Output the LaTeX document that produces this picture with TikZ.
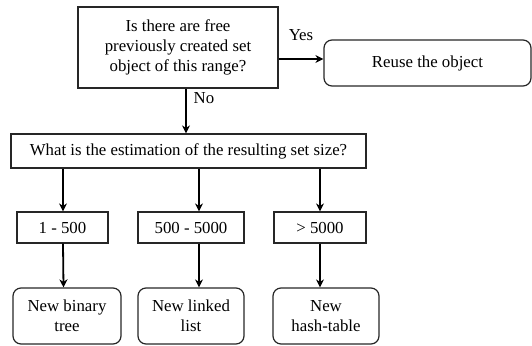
\documentclass[tikz,border=0pt]{standalone}
\usepackage{fontspec}
\setmainfont{Liberation Serif}
\usetikzlibrary{arrows.meta,calc}
\begin{document}
\begin{tikzpicture}[x=1pt,y=-1pt,
  every node/.style={font=\fontsize{16.8}{20}\selectfont, inner sep=0pt, align=center},
  sq/.style={draw=black!85, line width=1.2pt, rectangle},
  rd/.style={draw=black!85, line width=1.2pt, rectangle, rounded corners=8pt},
  arr/.style={draw=black, line width=1.8pt, -{Stealth[length=8pt,width=8pt,inset=2.5pt]}},
  lbl/.style={}]
\useasboundingbox (0,0) rectangle (532,345);
\node[sq, minimum width=200pt, minimum height=81pt] (q1) at (178,47.5)
  {Is there are free\\previously created set\\object of this range?};
\node[rd, minimum width=207pt, minimum height=46pt] (reuse) at (427.5,63) {Reuse the object};
\node[sq, minimum width=355pt, minimum height=34pt] (q2) at (188.5,151)
  {What is the estimation of the resulting set size?};
\node[sq, minimum width=91pt, minimum height=31pt] (b1) at (62.5,227.5) {1 - 500};
\node[sq, minimum width=106pt, minimum height=31pt] (b2) at (191,227.5) {500 - 5000};
\node[sq, minimum width=92pt, minimum height=31pt] (b3) at (320,227.5) {> 5000};
\node[rd, minimum width=108pt, minimum height=56pt] (r1) at (67,316) {New binary\\tree};
\node[rd, minimum width=106pt, minimum height=56pt] (r2) at (191,316) {New linked\\list};
\node[rd, minimum width=106pt, minimum height=56pt] (r3) at (326,316) {New\\hash-table};
\node[lbl] (yes) at (301,35) {Yes};
\node[lbl] (no) at (204,98) {No};
% connectors
\draw[arr] ($(q1.east)+(0,11.5)$) -- ($(reuse.west)+(0,-4)$);
\draw[arr] ($(q1.south)+(8,0)$) -- ($(q2.north)+(-2.5,0)$);
\draw[arr] ($(q2.south)+(-125.5,0)$) -- ($(b1.north)+(0.5,0)$);
\draw[arr] ($(q2.south)+(10.5,0)$) -- ($(b2.north)+(8,0)$);
\draw[arr] ($(q2.south)+(131.5,0)$) -- (b3.north);
\draw[arr] ($(b1.south)+(0.5,0)$) -- ($(r1.north)+(-3.5,0)$);
\draw[arr] ($(b2.south)+(8,0)$) -- ($(r2.north)+(8,0)$);
\draw[arr] (b3.south) -- ($(r3.north)+(-6,0)$);
\end{tikzpicture}
\end{document}
